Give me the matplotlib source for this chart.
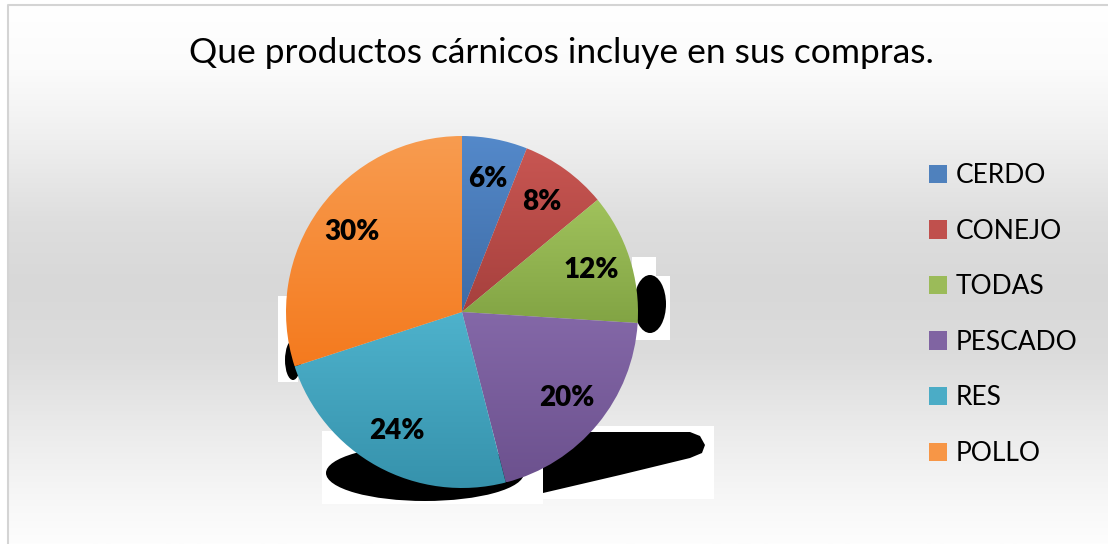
import numpy as np
import matplotlib
matplotlib.use("Agg")
import matplotlib.pyplot as plt
from matplotlib.patches import Rectangle, Ellipse, Patch, Polygon
from matplotlib.colors import LinearSegmentedColormap

# data
categories = ["CERDO", "CONEJO", "TODAS", "PESCADO", "RES", "POLLO"]
shares = [6, 8, 12, 20, 24, 30]
colors = ["#4F81BD", "#C0504D", "#9BBB59", "#8064A2", "#4BACC6", "#F79646"]
# light (top) and dark (bottom) shade of each slice
tops = ["#5489CA", "#C85652", "#A0C25C", "#8468A8", "#4EB2CC", "#F89C50"]
bots = ["#3E6CA6", "#A6403D", "#82A444", "#6C518E", "#3692AC", "#F47A1E"]
title = "Que productos cárnicos incluye en sus compras."

plt.rcParams['font.family'] = ['Lato', 'DejaVu Sans']

W, H = 1108, 544
fig = plt.figure(figsize=(W / 100, H / 100), dpi=100)

# background axes in pixel coords
bg = fig.add_axes([0, 0, 1, 1])
bg.set_xlim(0, W)
bg.set_ylim(H, 0)
bg.axis('off')
grad = LinearSegmentedColormap.from_list("bg", [
    (0.0, "#ffffff"), (0.12, "#fbfbfb"), (0.25, "#efefef"), (0.40, "#dedede"),
    (0.52, "#d8d8d8"), (0.65, "#dcdcdc"), (0.80, "#ececec"), (0.93, "#f8f8f8"),
    (1.0, "#fdfdfd")])
bg.imshow(np.linspace(0, 1, 256)[:, None], cmap=grad, aspect='auto',
          extent=[8, W, H, 5], zorder=0)
bg.plot([8, 8, W], [H, 5, 5], color="#d4d4d4", lw=1.5, zorder=1)

# shadow artifacts behind the pie (white boxes with black blobs)
for (x, y, w, h) in [(278, 296, 20, 86), (632, 257, 24, 20), (633, 276, 37, 64),
                     (322, 431, 221, 73), (543, 426, 171, 73)]:
    bg.add_patch(Rectangle((x, y), w, h, facecolor="white", edgecolor="none", zorder=2))
bg.add_patch(Ellipse((293, 360), 16, 40, facecolor="black", zorder=3))
bg.add_patch(Ellipse((650, 304), 32, 58, facecolor="black", zorder=3))
bg.add_patch(Ellipse((425, 473), 198, 56, facecolor="black", zorder=3))
bg.add_patch(Polygon([(543, 432), (690, 432), (700, 436), (705, 445), (702, 453),
                      (690, 458), (620, 475), (543, 493)], closed=True,
                     facecolor="black", edgecolor="none", zorder=3))

bg.text(561, 53, title, ha='center', va='center', fontsize=25.5, color="black", zorder=5)

# pie
cx, cy, r = 462, 312, 176
ax = fig.add_axes([(cx - r) / W, (H - cy - r) / H, 2 * r / W, 2 * r / H])
wedges, _ = ax.pie(shares, colors=colors, startangle=90, counterclock=False,
                   wedgeprops=dict(edgecolor="none"))
ax.axis('off')

# vertical shading inside each slice, from the slice's own top to bottom
for wdg, t, b in zip(wedges, tops, bots):
    th = np.deg2rad(np.linspace(wdg.theta1, wdg.theta2, 100))
    ys = np.concatenate([[0], np.sin(th)])
    cm = LinearSegmentedColormap.from_list("s", [t, b])
    im = ax.imshow(np.linspace(0, 1, 256)[:, None], cmap=cm, aspect='auto',
                   extent=[-1, 1, ys.min(), ys.max()], zorder=2)
    im.set_clip_path(wdg)
    wdg.set_facecolor("none")
ax.set_xlim(-1, 1)
ax.set_ylim(-1, 1)

# percentage labels
start = 90
for s in shares:
    ang = np.deg2rad(start - s * 3.6 / 2)
    ax.text(0.77 * np.cos(ang), 0.77 * np.sin(ang), f"{s}%", ha='center', va='center',
            fontsize=20, fontweight='heavy', color="black", zorder=4)
    start -= s * 3.6

# legend
handles = [Patch(facecolor=c, edgecolor="none") for c in colors]
fig.legend(handles, categories, loc='upper left', bbox_to_anchor=(929 / W, 1 - 163 / H),
           frameon=False, fontsize=19, labelspacing=1.16, handlelength=0.7,
           handleheight=0.7, handletextpad=0.3, borderpad=0, borderaxespad=0)

fig.savefig("out.png", dpi=100)
